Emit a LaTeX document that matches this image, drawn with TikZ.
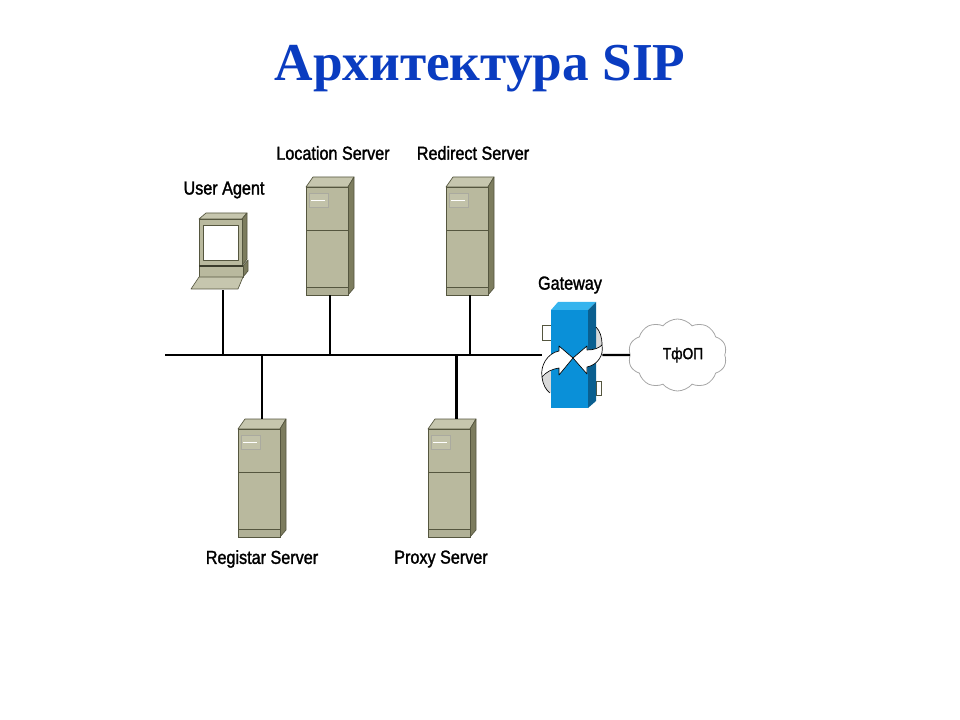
\documentclass[tikz,border=0pt]{standalone}
\usepackage{fontspec}
\setmainfont{Liberation Serif}
\newfontfamily\labelfont[FakeStretch=0.86,FakeBold=1.6]{Liberation Sans}
\usetikzlibrary{shapes.symbols}

\definecolor{sipblue}{HTML}{0A3CC0}
\definecolor{srvface}{HTML}{B9B99E}
\definecolor{srvtop}{HTML}{C6C6AE}
\definecolor{srvside}{HTML}{7C7C5E}
\definecolor{srvline}{HTML}{55563F}
\definecolor{gateface}{HTML}{0A90D8}
\definecolor{gatetop}{HTML}{35B4EE}
\definecolor{gateside}{HTML}{0A5F90}

\tikzset{
devlabel/.style={font=\labelfont\fontsize{14.1}{16}\selectfont, inner sep=0pt},
wire/.style={line width=1.6pt, black},
srvpart/.style={draw=srvline, line width=0.5pt, line join=round},
pics/serverbox/.style={code={
\node (box) at (24,59) [minimum width=36pt, minimum height=88.5pt, inner sep=0pt] {};
\draw[srvpart, fill=srvtop] (0,10) -- (7,0) -- (48,0) -- (42,10) -- cycle;
\draw[srvpart, fill=srvside] (42,10) -- (48,0) -- (48,111) -- (42,118) -- cycle;
\draw[srvpart, fill=srvface] (0,10) rectangle (42,118);
\draw[srvpart] (0,53) -- (42,53);
\draw[srvpart, fill=srvface!95!black] (0,110) rectangle (42,118);
\draw[draw=srvline!50, line width=0.3pt, fill=srvtop!70!srvface] (3,16) rectangle (22,30);
\draw[white, line width=0.6pt] (5,23) -- (19,23);
}}
}

\begin{document}
\begin{tikzpicture}[x=0.75pt, y=-0.75pt]

\useasboundingbox (0,0) rectangle (960,720);

\node (title) at (480,68.5)
[font=\fontsize{40}{44}\selectfont\bfseries, text=sipblue, inner sep=0pt]
{Архитектура SIP};

\node (useragentlabel) at (224,190) [devlabel] {User Agent};
\node (locationlabel) at (333,153) [devlabel] {Location Server};
\node (redirectlabel) at (473,153) [devlabel] {Redirect Server};
\node (gatewaylabel) at (570,285) [devlabel] {Gateway};
\node (registarlabel) at (262,559) [devlabel] {Registar Server};
\node (proxylabel) at (441,559) [devlabel] {Proxy Server};

\pic (location) at (306,177) {serverbox};
\pic (redirect) at (446,177) {serverbox};
\pic (registar) at (238,419) {serverbox};
\pic (proxy) at (428,419) {serverbox};

\node (pc) at (223,251.5)
[minimum width=37.5pt, minimum height=57.75pt, inner sep=0pt]
{};

\draw[srvpart, fill=srvtop] (199,219) -- (206,213) -- (247,213) -- (242,219) -- cycle;
\draw[srvpart, fill=srvside] (242,219) -- (247,213) -- (247,259) -- (242,266) -- cycle;
\draw[srvpart, fill=srvface] (199,219) rectangle (242,266);
\draw[srvpart, fill=white] (203,225) rectangle (238,260);
\draw[srvpart, fill=srvside] (243,266) -- (248,260) -- (248,271) -- (243,277) -- cycle;
\draw[srvpart, fill=srvface] (199,266) rectangle (243,277);
\draw[line width=1pt, srvline!70!black] (199,266) -- (243,266);
\draw[srvpart, fill=srvtop] (199,277) -- (243,277) -- (238,289) -- (191,289) -- cycle;

\coordinate (busleft) at (165,355);

\node (gate) at (572,355)
[minimum width=45pt, minimum height=79.5pt, inner sep=0pt]
{};

\node (pstn) at (677.5,355)
[cloud, cloud puffs=10, cloud puff arc=100, aspect=1.4, draw=gray!70, line width=0.6pt,
fill=white, minimum width=74pt, minimum height=54pt, inner sep=0pt]
{};

\node (pstnlabel) at (683,355)
[font=\labelfont\fontsize{12}{14}\selectfont, inner sep=0pt]
{ТфОП};

\draw[wire] (busleft) -- (gate.west);
\draw[wire] (gate.east) -- (pstn.west);

\draw[wire] (pc.south) -- (pc.south |- busleft);
\draw[wire] (locationbox.south) -- (locationbox.south |- busleft);
\draw[wire] (redirectbox.south) -- (redirectbox.south |- busleft);
\draw[wire] (registarbox.north) -- (registarbox.north |- busleft);
\draw[wire] ([xshift=3.4pt]proxybox.north) -- ([xshift=3.4pt]proxybox.north |- busleft);

\draw[srvline, line width=0.5pt] (542,325) rectangle (551,340);
\draw[srvline, line width=0.5pt] (596,381) rectangle (601,395);

\fill[gray!30] (542,377) .. controls (543,385) and (546,390) .. (551,393) -- (551,368) -- cycle;
\fill[gray!30] (602,345) .. controls (602,337) and (600,331) .. (596,327) -- (596,352) -- cycle;

\fill[gatetop] (551,310) -- (558,302) -- (596,302) -- (588,310) -- cycle;
\fill[gateside] (588,310) -- (596,302) -- (596,401) -- (588,408) -- cycle;
\fill[gateface] (551,310) rectangle (588,408);

\draw[black, line width=0.5pt] (596,327) .. controls (600,331) and (602,337) .. (602,345);
\draw[black, line width=0.5pt] (550,393) .. controls (546,390) and (543,385) .. (542,377);

\draw[black, line width=0.5pt, fill=white, line join=round]
(573,358) -- (559,346) -- (559,351) .. controls (548,353) and (540,365) .. (542,377)
.. controls (546,372) and (552,369) .. (559,368) -- (559,375) -- cycle;

\draw[black, line width=0.5pt, fill=white, line join=round]
(573,358) -- (587,346) -- (587,350) .. controls (594,350) and (599,348) .. (602,345)
.. controls (604,356) and (597,365) .. (587,367) -- (587,374) -- cycle;

\end{tikzpicture}
\end{document}
